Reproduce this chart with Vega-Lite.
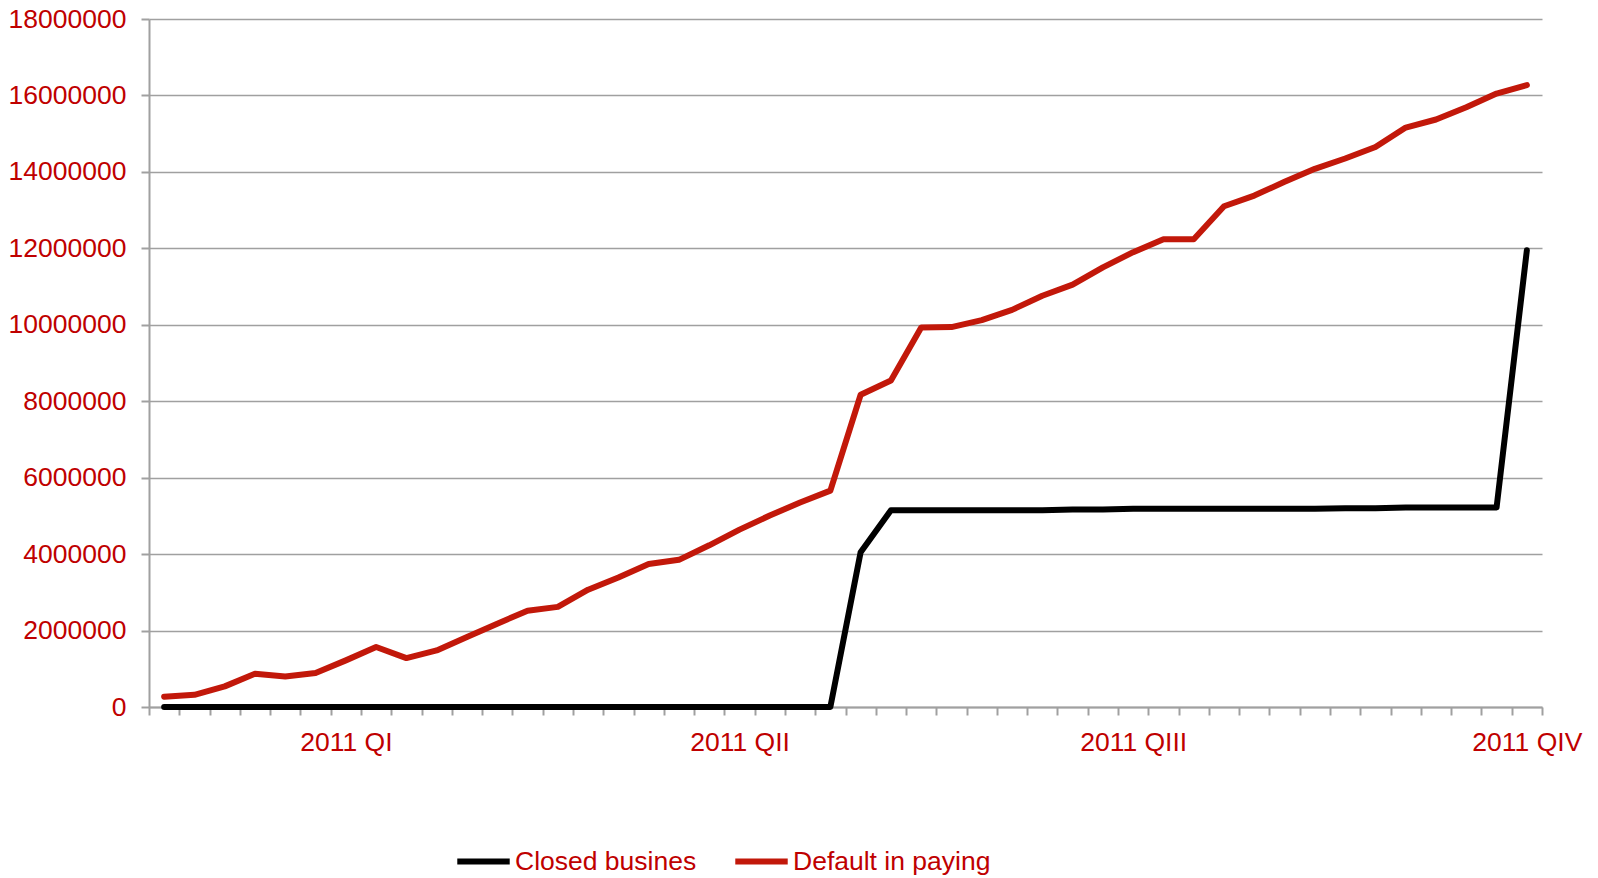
{
  "$schema": "https://vega.github.io/schema/vega-lite/v6.json",
  "width": 1393,
  "height": 688,
  "autosize": {"type": "none"},
  "padding": {"left": 149, "top": 19, "right": 56, "bottom": 171},
  "background": "white",
  "config": {
    "view": {"stroke": null},
    "font": "Liberation Sans",
    "axis": {
      "labelFont": "Liberation Sans",
      "labelFontSize": 26.5,
      "labelColor": "#BF0000",
      "domainColor": "#A0A0A0",
      "domainWidth": 2,
      "tickColor": "#A0A0A0",
      "tickWidth": 2,
      "tickSize": 8,
      "title": null
    },
    "legend": {
      "labelFont": "Liberation Sans",
      "labelFontSize": 26.5,
      "labelColor": "#BF0000",
      "labelLimit": 0
    }
  },
  "data": {
    "values": [
      {"period": 1, "series": "Closed busines", "value": 0},
      {"period": 2, "series": "Closed busines", "value": 0},
      {"period": 3, "series": "Closed busines", "value": 0},
      {"period": 4, "series": "Closed busines", "value": 0},
      {"period": 5, "series": "Closed busines", "value": 0},
      {"period": 6, "series": "Closed busines", "value": 0},
      {"period": 7, "series": "Closed busines", "value": 0},
      {"period": 8, "series": "Closed busines", "value": 0},
      {"period": 9, "series": "Closed busines", "value": 0},
      {"period": 10, "series": "Closed busines", "value": 0},
      {"period": 11, "series": "Closed busines", "value": 0},
      {"period": 12, "series": "Closed busines", "value": 0},
      {"period": 13, "series": "Closed busines", "value": 0},
      {"period": 14, "series": "Closed busines", "value": 0},
      {"period": 15, "series": "Closed busines", "value": 0},
      {"period": 16, "series": "Closed busines", "value": 0},
      {"period": 17, "series": "Closed busines", "value": 0},
      {"period": 18, "series": "Closed busines", "value": 0},
      {"period": 19, "series": "Closed busines", "value": 0},
      {"period": 20, "series": "Closed busines", "value": 0},
      {"period": 21, "series": "Closed busines", "value": 0},
      {"period": 22, "series": "Closed busines", "value": 0},
      {"period": 23, "series": "Closed busines", "value": 0},
      {"period": 24, "series": "Closed busines", "value": 4050000},
      {"period": 25, "series": "Closed busines", "value": 5150000},
      {"period": 26, "series": "Closed busines", "value": 5150000},
      {"period": 27, "series": "Closed busines", "value": 5150000},
      {"period": 28, "series": "Closed busines", "value": 5150000},
      {"period": 29, "series": "Closed busines", "value": 5150000},
      {"period": 30, "series": "Closed busines", "value": 5150000},
      {"period": 31, "series": "Closed busines", "value": 5170000},
      {"period": 32, "series": "Closed busines", "value": 5170000},
      {"period": 33, "series": "Closed busines", "value": 5190000},
      {"period": 34, "series": "Closed busines", "value": 5190000},
      {"period": 35, "series": "Closed busines", "value": 5190000},
      {"period": 36, "series": "Closed busines", "value": 5190000},
      {"period": 37, "series": "Closed busines", "value": 5190000},
      {"period": 38, "series": "Closed busines", "value": 5190000},
      {"period": 39, "series": "Closed busines", "value": 5190000},
      {"period": 40, "series": "Closed busines", "value": 5200000},
      {"period": 41, "series": "Closed busines", "value": 5200000},
      {"period": 42, "series": "Closed busines", "value": 5220000},
      {"period": 43, "series": "Closed busines", "value": 5220000},
      {"period": 44, "series": "Closed busines", "value": 5220000},
      {"period": 45, "series": "Closed busines", "value": 5220000},
      {"period": 46, "series": "Closed busines", "value": 11950000},
      {"period": 1, "series": "Default in paying", "value": 270000},
      {"period": 2, "series": "Default in paying", "value": 320000},
      {"period": 3, "series": "Default in paying", "value": 540000},
      {"period": 4, "series": "Default in paying", "value": 870000},
      {"period": 5, "series": "Default in paying", "value": 800000},
      {"period": 6, "series": "Default in paying", "value": 890000},
      {"period": 7, "series": "Default in paying", "value": 1220000},
      {"period": 8, "series": "Default in paying", "value": 1570000},
      {"period": 9, "series": "Default in paying", "value": 1280000},
      {"period": 10, "series": "Default in paying", "value": 1480000},
      {"period": 11, "series": "Default in paying", "value": 1830000},
      {"period": 12, "series": "Default in paying", "value": 2180000},
      {"period": 13, "series": "Default in paying", "value": 2520000},
      {"period": 14, "series": "Default in paying", "value": 2620000},
      {"period": 15, "series": "Default in paying", "value": 3070000},
      {"period": 16, "series": "Default in paying", "value": 3390000},
      {"period": 17, "series": "Default in paying", "value": 3740000},
      {"period": 18, "series": "Default in paying", "value": 3850000},
      {"period": 19, "series": "Default in paying", "value": 4230000},
      {"period": 20, "series": "Default in paying", "value": 4640000},
      {"period": 21, "series": "Default in paying", "value": 5010000},
      {"period": 22, "series": "Default in paying", "value": 5350000},
      {"period": 23, "series": "Default in paying", "value": 5660000},
      {"period": 24, "series": "Default in paying", "value": 8170000},
      {"period": 25, "series": "Default in paying", "value": 8540000},
      {"period": 26, "series": "Default in paying", "value": 9930000},
      {"period": 27, "series": "Default in paying", "value": 9940000},
      {"period": 28, "series": "Default in paying", "value": 10120000},
      {"period": 29, "series": "Default in paying", "value": 10390000},
      {"period": 30, "series": "Default in paying", "value": 10760000},
      {"period": 31, "series": "Default in paying", "value": 11050000},
      {"period": 32, "series": "Default in paying", "value": 11500000},
      {"period": 33, "series": "Default in paying", "value": 11900000},
      {"period": 34, "series": "Default in paying", "value": 12240000},
      {"period": 35, "series": "Default in paying", "value": 12240000},
      {"period": 36, "series": "Default in paying", "value": 13100000},
      {"period": 37, "series": "Default in paying", "value": 13380000},
      {"period": 38, "series": "Default in paying", "value": 13740000},
      {"period": 39, "series": "Default in paying", "value": 14080000},
      {"period": 40, "series": "Default in paying", "value": 14350000},
      {"period": 41, "series": "Default in paying", "value": 14650000},
      {"period": 42, "series": "Default in paying", "value": 15160000},
      {"period": 43, "series": "Default in paying", "value": 15370000},
      {"period": 44, "series": "Default in paying", "value": 15690000},
      {"period": 45, "series": "Default in paying", "value": 16050000},
      {"period": 46, "series": "Default in paying", "value": 16270000}
    ]
  },
  "mark": {"type": "line", "strokeWidth": 6, "strokeJoin": "round", "strokeCap": "round"},
  "encoding": {
    "x": {
      "field": "period",
      "type": "quantitative",
      "scale": {"domain": [0.5, 46.5], "nice": false, "zero": false},
      "axis": {
        "grid": false,
        "values": [0.5, 1.5, 2.5, 3.5, 4.5, 5.5, 6.5, 7, 7.5, 8.5, 9.5, 10.5, 11.5, 12.5, 13.5, 14.5, 15.5, 16.5, 17.5, 18.5, 19.5, 20, 20.5, 21.5, 22.5, 23.5, 24.5, 25.5, 26.5, 27.5, 28.5, 29.5, 30.5, 31.5, 32.5, 33, 33.5, 34.5, 35.5, 36.5, 37.5, 38.5, 39.5, 40.5, 41.5, 42.5, 43.5, 44.5, 45.5, 46, 46.5],
        "labelExpr": "datum.value == 7 ? '2011 QI' : datum.value == 20 ? '2011 QII' : datum.value == 33 ? '2011 QIII' : datum.value == 46 ? '2011 QIV' : ''",
        "tickOpacity": {"condition": {"test": "datum.value % 1 == 0", "value": 0}, "value": 1},
        "labelPadding": 14,
        "labelOverlap": false,
        "labelFlush": false,
        "labelBound": false
      }
    },
    "y": {
      "field": "value",
      "type": "quantitative",
      "scale": {"domain": [0, 18000000], "nice": false},
      "axis": {
        "values": [0, 2000000, 4000000, 6000000, 8000000, 10000000, 12000000, 14000000, 16000000, 18000000],
        "format": "d",
        "grid": true,
        "gridColor": "#A0A0A0",
        "gridWidth": 1.5,
        "labelPadding": 15
      }
    },
    "color": {
      "field": "series",
      "type": "nominal",
      "scale": {"domain": ["Closed busines", "Default in paying"], "range": ["#000000", "#C2180A"]},
      "legend": {
        "title": null,
        "orient": "none",
        "direction": "horizontal",
        "legendX": 305,
        "legendY": 813,
        "symbolType": "stroke",
        "symbolSize": 2750,
        "symbolStrokeWidth": 6,
        "labelOffset": 2,
        "columnPadding": 26
      }
    }
  }
}
